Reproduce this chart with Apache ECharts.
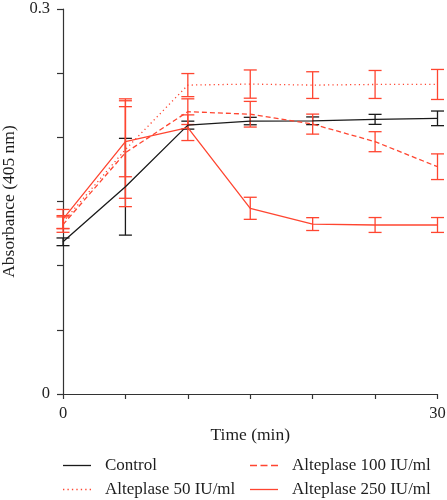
<!DOCTYPE html>
<html><head><meta charset="utf-8">
<script src="https://cdn.jsdelivr.net/npm/echarts@6/dist/echarts.min.js"></script>
<style>html,body{margin:0;padding:0;background:#fff}#c{width:447px;height:500px}</style>
</head><body><div id="c"></div>
<script>
const times = [0, 5, 10, 15, 20, 25, 30];
const controlMean = [0.1186, 0.1615, 0.2095, 0.2127, 0.2129, 0.2140, 0.2148];
const controlErr  = [0.0030, 0.0377, 0.0031, 0.0029, 0.0030, 0.0039, 0.0057];
const a50Mean = [0.1340, 0.1905, 0.2407, 0.2415, 0.2407, 0.2412, 0.2412];
const a50Err  = [0.0050, 0.0380, 0.0090, 0.0110, 0.0104, 0.0109, 0.0117];
const a100Mean = [0.1320, 0.1880, 0.2200, 0.2180, 0.2103, 0.1966, 0.1771];
const a100Err  = [0.0060, 0.0420, 0.0100, 0.0100, 0.0078, 0.0078, 0.0100];
const a250Mean = [0.1363, 0.1966, 0.2075, 0.1447, 0.1324, 0.1317, 0.1317];
const a250Err  = [0.0075, 0.0273, 0.0100, 0.0086, 0.0050, 0.0058, 0.0058];
const seriesNames = ['Control', 'Alteplase 50 IU/ml', 'Alteplase 100 IU/ml', 'Alteplase 250 IU/ml'];
const yTickLabels = {0: '0', 0.3: '0.3'};
const xTickLabels = {0: '0', 30: '30'};

const RED = '#ff4530', BLACK = '#1a1a1a';
const FONT = 'Liberation Serif';
const TXT = '#1e1e1e';

function dashPath(seg, gap, total, h) {
  let p = 'path://';
  for (let x = 0; x < total - 0.01; x += seg + gap) {
    const e = Math.min(x + seg, total);
    p += 'M' + x + ',0H' + e + 'V' + h + 'H' + x + 'Z';
  }
  return p;
}
const ICON_W = 28, ICON_H = 1.3;
const defs = [
  {name: seriesNames[0], mean: controlMean, err: controlErr, color: BLACK, type: 'solid', icon: dashPath(28, 0, 28, ICON_H)},
  {name: seriesNames[1], mean: a50Mean, err: a50Err, color: RED, type: [1.2, 3.2], icon: dashPath(1.2, 2.8, 28, ICON_H)},
  {name: seriesNames[2], mean: a100Mean, err: a100Err, color: RED, type: [5, 3], icon: dashPath(7, 3.5, 28, ICON_H)},
  {name: seriesNames[3], mean: a250Mean, err: a250Err, color: RED, type: 'solid', icon: dashPath(28, 0, 28, ICON_H)}
];

const series = [];
defs.forEach(d => {
  series.push({
    type: 'custom', name: d.name + '_err', silent: true, z: 3,
    data: times.map((t, i) => [t, d.mean[i] - d.err[i], d.mean[i] + d.err[i]]),
    renderItem: (params, api) => {
      const x = api.value(0);
      const lo = api.coord([x, api.value(1)]);
      const hi = api.coord([x, api.value(2)]);
      const hw = 6.5;
      const st = {stroke: d.color, lineWidth: 1.3};
      return {type: 'group', children: [
        {type: 'line', shape: {x1: lo[0], y1: lo[1], x2: hi[0], y2: hi[1]}, style: st},
        {type: 'line', shape: {x1: lo[0]-hw, y1: lo[1], x2: lo[0]+hw, y2: lo[1]}, style: st},
        {type: 'line', shape: {x1: hi[0]-hw, y1: hi[1], x2: hi[0]+hw, y2: hi[1]}, style: st}
      ]};
    }
  });
});
defs.forEach(d => {
  series.push({
    type: 'line', name: d.name, symbol: 'none', z: 4,
    data: times.map((t, i) => [t, d.mean[i]]),
    lineStyle: {color: d.color, width: 1.3, type: d.type},
    itemStyle: {color: d.color}
  });
});

const legendPos = [[63, 457], [63, 481], [250, 457], [250, 481]];
const legends = defs.map((d, i) => ({
  left: legendPos[i][0], top: legendPos[i][1], padding: 0,
  itemWidth: ICON_W, itemHeight: ICON_H, symbolKeepAspect: false,
  data: [{name: d.name, icon: d.icon}],
  itemStyle: {color: d.color},
  textStyle: {fontFamily: FONT, fontSize: 17, color: TXT, padding: [0, 0, 0, 9]}
}));

const chart = echarts.init(document.getElementById('c'));
chart.setOption({
  animation: false,
  backgroundColor: '#fff',
  grid: {left: 63, right: 9.5, top: 9, bottom: 106, containLabel: false, outerBoundsMode: 'none'},
  legend: legends,
  xAxis: {
    type: 'value', min: 0, max: 30, interval: 5,
    name: 'Time (min)', nameLocation: 'middle', nameGap: 30,
    nameTextStyle: {fontFamily: FONT, fontSize: 17.5, color: TXT},
    axisLine: {lineStyle: {color: '#333', width: 1.2}},
    axisTick: {length: 5, lineStyle: {color: '#333', width: 1.2}},
    axisLabel: {fontFamily: FONT, fontSize: 16.5, color: TXT, margin: 11,
      formatter: v => xTickLabels[v] !== undefined ? xTickLabels[v] : ''},
    splitLine: {show: false}
  },
  yAxis: {
    type: 'value', min: 0, max: 0.3, interval: 0.05,
    name: 'Absorbance (405 nm)', nameLocation: 'middle', nameGap: 44,
    nameTextStyle: {fontFamily: FONT, fontSize: 17.5, color: TXT},
    axisLine: {show: true, lineStyle: {color: '#333', width: 1.2}},
    axisTick: {show: true, length: 6, lineStyle: {color: '#333', width: 1.2}},
    axisLabel: {fontFamily: FONT, fontSize: 16.5, color: TXT, margin: 13,
      formatter: v => { const k = Math.round(v * 100) / 100; return yTickLabels[k] !== undefined ? yTickLabels[k] : ''; }},
    splitLine: {show: false}
  },
  series: series
});
</script></body></html>
